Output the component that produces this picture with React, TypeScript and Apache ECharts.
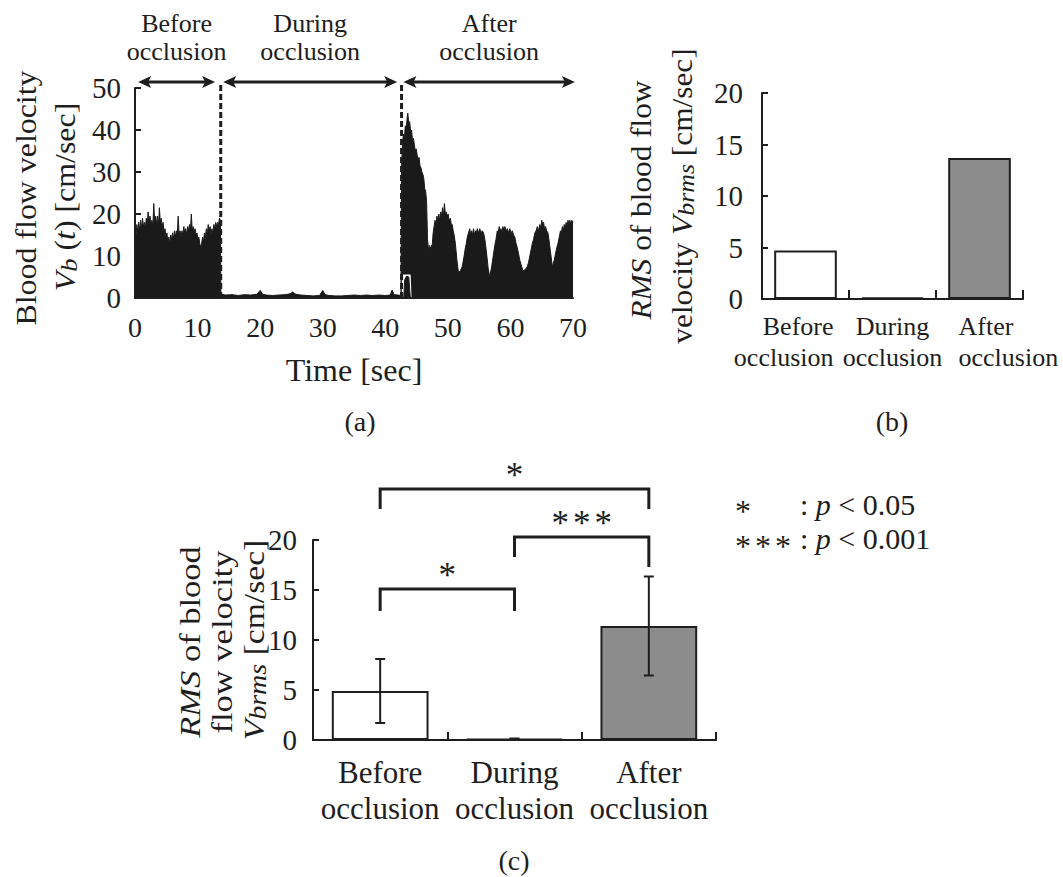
import React, { useEffect, useRef } from "react";
import * as echarts from "echarts";

const FONT = '"Liberation Serif", "Times New Roman", Times, serif';
const INK = "#1e1e1e";

// ---------------- Panel (a): blood flow velocity trace [time s, velocity cm/s]
const beforeTrace: number[][] = [
  [0, 16.5], [0.15, 14.5], [0.3, 17.5], [0.45, 15.5], [0.6, 18], [0.75, 16], [0.9, 18.5], [1.05, 16.5],
  [1.2, 19], [1.35, 17], [1.5, 18], [1.65, 16.5], [1.8, 19], [1.95, 17.5], [2.1, 20.5], [2.25, 18],
  [2.4, 19.5], [2.55, 17.5], [2.7, 18.5], [2.85, 17], [3, 22.5], [3.15, 18], [3.3, 19.5], [3.45, 17.5],
  [3.6, 19.5], [3.75, 17], [3.9, 21.5], [4.05, 18], [4.2, 19], [4.35, 17], [4.5, 18], [4.65, 15.5],
  [4.8, 16.5], [4.95, 14.5], [5.1, 15.5], [5.25, 13.5], [5.4, 14.5], [5.55, 13], [5.7, 15], [5.85, 14],
  [6, 15.5], [6.15, 14], [6.3, 16], [6.45, 14.5], [6.6, 16], [6.75, 15], [6.9, 19.5], [7.05, 15],
  [7.2, 16], [7.35, 14.5], [7.5, 16], [7.65, 15], [7.8, 17], [7.95, 15.5], [8.1, 16.5], [8.25, 15],
  [8.4, 17], [8.55, 16], [8.7, 17.5], [8.85, 16], [9, 20], [9.15, 16], [9.3, 17], [9.45, 15.5],
  [9.6, 16.5], [9.75, 15], [9.9, 15.5], [10.05, 14], [10.2, 14.5], [10.35, 13], [10.5, 12], [10.65, 13],
  [10.8, 14.5], [10.95, 13.5], [11.1, 15.5], [11.25, 14.5], [11.4, 16.5], [11.55, 15], [11.7, 17.5], [11.85, 16],
  [12, 17], [12.15, 15], [12.3, 16.5], [12.45, 15.5], [12.6, 17.5], [12.75, 16.5], [12.9, 18], [13.05, 17],
  [13.2, 18], [13.35, 17.5], [13.5, 19], [13.65, 18.5],
];
const duringTrace: number[][] = [
  [13.72, 0.9], [14.5, 0.7], [15.5, 0.8], [16.5, 0.6], [17.5, 0.8], [18.5, 0.7], [19.5, 0.9], [20, 1.8],
  [20.4, 0.9], [21, 0.7], [22, 0.6], [23, 0.7], [24, 0.8], [24.8, 1.0], [25.2, 1.4], [25.7, 0.9],
  [26.5, 0.7], [27.5, 0.6], [28.5, 0.5], [29.5, 0.6], [30, 1.8], [30.4, 0.8], [31, 0.6], [32, 0.5],
  [33, 0.5], [34, 0.6], [35, 0.7], [36, 0.6], [37, 0.7], [38, 0.6], [39, 0.7], [40, 0.6],
  [40.8, 0.7], [41.1, 1.9], [41.4, 0.8], [42, 0.7], [42.5, 0.6],
];
const afterTrace: number[][] = [
  [42.6, 31], [42.75, 37], [42.9, 39], [43.05, 38], [43.2, 41], [43.35, 40], [43.5, 43], [43.6, 44],
  [43.75, 41.5], [43.9, 42], [44.05, 39.5], [44.2, 40], [44.35, 37.5], [44.5, 38], [44.65, 36.5], [44.8, 35],
  [44.95, 35.5], [45.1, 34], [45.25, 33], [45.4, 33.5], [45.55, 31.5], [45.7, 31], [45.85, 30], [46.0, 29.5],
  [46.15, 28.5], [46.3, 26], [46.45, 25.5], [46.6, 23], [46.75, 14], [46.9, 11.5], [47.05, 12.5], [47.2, 11.5],
  [47.35, 12.5], [47.5, 12.5], [47.65, 15.5], [47.8, 17], [47.95, 18.5], [48.1, 17.5], [48.25, 19.5], [48.4, 18.5],
  [48.55, 20], [48.7, 18.5], [48.85, 20.5], [49.0, 19.5], [49.15, 21.5], [49.3, 19.5], [49.45, 22.5], [49.6, 20],
  [49.75, 20.5], [49.9, 19.5], [50.05, 20], [50.2, 18.5], [50.4, 19], [50.55, 17.5], [50.7, 17.5], [50.85, 16],
  [51.0, 15], [51.2, 13], [51.45, 9], [51.7, 6], [52.0, 6.5], [52.3, 7.5], [52.6, 10], [52.8, 12],
  [52.95, 13], [53.1, 14.5], [53.3, 15.5], [53.5, 16.5], [53.65, 15], [53.8, 16], [53.95, 15], [54.1, 16.5],
  [54.25, 15], [54.4, 16], [54.55, 15.5], [54.7, 16.5], [54.9, 15.5], [55.1, 16.5], [55.3, 15.5], [55.5, 16],
  [55.7, 15.5], [55.85, 14.5], [56.0, 13], [56.2, 10.5], [56.45, 7], [56.7, 5], [57.0, 7.5], [57.3, 10.5],
  [57.5, 12.5], [57.7, 14], [57.9, 16], [58.05, 15.5], [58.2, 17], [58.35, 16], [58.5, 16.5], [58.65, 15.5],
  [58.8, 17], [58.95, 16], [59.1, 17], [59.3, 16], [59.5, 16.5], [59.7, 15.5], [59.9, 16.5], [60.1, 15.5],
  [60.3, 16], [60.5, 15], [60.7, 14.5], [60.9, 13], [61.1, 12], [61.3, 10.5], [61.5, 9], [61.7, 8],
  [62.0, 6.5], [62.4, 6.8], [62.7, 7.5], [62.9, 8.5], [63.1, 10], [63.3, 11.5], [63.5, 13], [63.7, 14],
  [63.9, 15.5], [64.1, 16], [64.3, 17], [64.5, 16], [64.7, 17.5], [64.85, 16.5], [65.0, 18.5], [65.15, 17.5],
  [65.3, 18], [65.45, 16.5], [65.6, 17], [65.8, 16], [66.0, 15.5], [66.15, 14], [66.4, 11], [66.7, 7.5],
  [67.0, 9], [67.2, 10.5], [67.4, 12], [67.6, 13], [67.8, 14.5], [68.0, 16], [68.15, 15.5], [68.3, 17],
  [68.45, 16], [68.6, 17.5], [68.75, 16.5], [68.9, 18], [69.05, 17], [69.2, 18.5], [69.35, 17.5], [69.5, 18.5],
  [69.65, 17.5], [69.8, 18.5], [70.0, 18],
];
// small white gap with a hump just after the cuff release
const releaseGap: number[][] = [[42.64, 0], [42.66, 5.6], [44.05, 5.6], [44.2, 0]];
const releaseHump: number[][] = [[42.95, 0], [43.1, 4.3], [43.4, 5.2], [43.75, 5.0], [44.0, 0]];

const phaseNames = ["Before\nocclusion", "During\nocclusion", "After\nocclusion"];
const phaseArrowStart = [0.5, 14.1, 42.9];
const phaseArrowEnd = [12.8, 41.9, 70.3];
const phaseBoundaries = [13.7, 42.6];

// ---------------- Panel (b): example RMS
const categories = ["Before\nocclusion", "During\nocclusion", "After\nocclusion"];
const exampleRms = [4.7, 0.15, 13.7];

// ---------------- Panel (c): mean RMS with SD and significance
const meanRms = [4.9, 0.1, 11.4];
const sdRms = [3.2, 0.05, 4.95];
const sigFrom = [0, 1, 0];
const sigTo = [1, 2, 2];
const sigTop = [15.1, 20.3, 25.1];
const sigLegLeft = [12.9, 18.3, 23.1];
const sigLegRight = [12.9, 17.3, 23.1];
const sigLabels = ["{st|*}", "{st|*}{st|*}{st|*}", "{st|*}"];
const legendKeys = ["{sl|*}", "{sl|*}{sl|*}{sl|*}"];
const legendTexts = [": {i|p} < 0.05", ": {i|p} < 0.001"];

const barFill = ["#ffffff", "#ffffff", "#8c8c8c"];

const rich = (size: number, lh?: number) => ({
  i: { fontStyle: "italic", fontSize: size, fontFamily: FONT, fill: INK, lineHeight: lh || size + 2 },
  s: {
    fontStyle: "italic",
    fontSize: Math.round(size * 0.82),
    fontFamily: FONT,
    fill: INK,
    lineHeight: Math.round(size * 0.62),
    verticalAlign: "bottom",
  },
  st: { fontSize: 35, fontFamily: FONT, fill: INK, lineHeight: 30, padding: [0, 2, 0, 2] },
  sl: { fontSize: 32, fontFamily: FONT, fill: INK, lineHeight: lh || 30, padding: [0, 2, 0, 2] },
});

const vTitle = (x: number, y: number, text: string, size: number, stretch: number) => ({
  type: "text",
  x,
  y,
  rotation: Math.PI / 2,
  scaleX: stretch,
  silent: true,
  style: {
    text,
    fontSize: size,
    lineHeight: size + 2,
    fontFamily: FONT,
    fill: INK,
    align: "center",
    verticalAlign: "middle",
    rich: rich(size),
  },
});

const plainText = (x: number, y: number, text: string, size: number, align = "center", lh?: number) => ({
  type: "text",
  x,
  y,
  silent: true,
  style: {
    text,
    fontSize: size,
    lineHeight: lh || size,
    fontFamily: FONT,
    fill: INK,
    align,
    verticalAlign: "middle",
    rich: rich(size, lh),
  },
});

export default function App() {
  const ref = useRef<HTMLDivElement>(null);
  useEffect(() => {
    if (!ref.current) return;
    const chart = echarts.init(ref.current, null, { renderer: "svg" });
    const axisLineStyle = { color: INK, width: 2 };
    const trace = [...beforeTrace, ...duringTrace, ...afterTrace];
    const catB = categories.map((c, i) =>
      i === 0
        ? { value: c, textStyle: { align: "right", padding: [0, -28, 0, 0] } }
        : i === 2
        ? { value: c, textStyle: { align: "left", padding: [0, 0, 0, -21] } }
        : c
    );

    const option: any = {
      animation: false,
      backgroundColor: "#ffffff",
      textStyle: { fontFamily: FONT, color: INK },
      grid: [
        { left: 135, top: 88, width: 438, height: 210 },
        { left: 762, top: 93, width: 261, height: 206 },
        { left: 313, top: 540, width: 403, height: 200 },
      ],
      xAxis: [
        {
          gridIndex: 0,
          type: "value",
          min: 0,
          max: 70,
          interval: 10,
          z: 10,
          axisLine: { show: true, lineStyle: axisLineStyle },
          axisTick: { show: false },
          splitLine: { show: false },
          axisLabel: { fontSize: 28, color: INK, margin: 15, fontFamily: FONT },
          name: "Time [sec]",
          nameLocation: "middle",
          nameGap: 56,
          nameTextStyle: { fontSize: 32, color: INK, fontFamily: FONT },
        },
        {
          gridIndex: 1,
          type: "category",
          data: catB,
          axisLine: { show: true, lineStyle: axisLineStyle },
          axisTick: { show: true, inside: true, length: 9, lineStyle: axisLineStyle },
          axisLabel: { fontSize: 26, lineHeight: 31, color: INK, margin: 12, interval: 0, fontFamily: FONT },
        },
        {
          gridIndex: 2,
          type: "category",
          data: categories,
          axisLine: { show: true, lineStyle: axisLineStyle },
          axisTick: { show: true, inside: true, length: 8, lineStyle: axisLineStyle },
          axisLabel: { fontSize: 31, lineHeight: 36, color: INK, margin: 14, interval: 0, fontFamily: FONT },
        },
      ],
      yAxis: [
        {
          gridIndex: 0,
          type: "value",
          min: 0,
          max: 50,
          interval: 10,
          axisLine: { show: true, lineStyle: axisLineStyle },
          axisTick: { show: true, inside: true, length: 6, lineStyle: axisLineStyle },
          splitLine: { show: false },
          axisLabel: { fontSize: 29, color: INK, margin: 14, fontFamily: FONT },
        },
        {
          gridIndex: 1,
          type: "value",
          min: 0,
          max: 20,
          interval: 5,
          axisLine: { show: true, lineStyle: axisLineStyle },
          axisTick: { show: true, inside: true, length: 6, lineStyle: axisLineStyle },
          splitLine: { show: false },
          axisLabel: { fontSize: 29, color: INK, margin: 19, fontFamily: FONT },
        },
        {
          gridIndex: 2,
          type: "value",
          min: 0,
          max: 20,
          interval: 5,
          axisLine: { show: true, lineStyle: axisLineStyle },
          axisTick: { show: true, inside: true, length: 6, lineStyle: axisLineStyle },
          splitLine: { show: false },
          axisLabel: { fontSize: 29, color: INK, margin: 16, fontFamily: FONT },
        },
      ],
      series: [
        {
          type: "line",
          xAxisIndex: 0,
          yAxisIndex: 0,
          data: trace,
          showSymbol: false,
          silent: true,
          lineStyle: { color: "#1a1a1a", width: 1 },
          areaStyle: { color: "#1a1a1a", opacity: 1 },
          z: 2,
        },
        {
          type: "line",
          xAxisIndex: 0,
          yAxisIndex: 0,
          data: releaseGap,
          showSymbol: false,
          silent: true,
          lineStyle: { width: 0, color: "#ffffff" },
          areaStyle: { color: "#ffffff", opacity: 1 },
          z: 3,
        },
        {
          type: "line",
          xAxisIndex: 0,
          yAxisIndex: 0,
          data: releaseHump,
          showSymbol: false,
          silent: true,
          lineStyle: { width: 1, color: "#1a1a1a" },
          areaStyle: { color: "#1a1a1a", opacity: 1 },
          z: 4,
        },
        {
          type: "custom",
          xAxisIndex: 0,
          yAxisIndex: 0,
          clip: false,
          silent: true,
          z: 6,
          data: phaseBoundaries.map((t) => [t, 0]),
          renderItem: (params: any, api: any) => {
            const p0 = api.coord([api.value(0), 0]);
            const p1 = api.coord([api.value(0), 50]);
            return {
              type: "line",
              shape: { x1: p0[0], y1: p0[1], x2: p1[0], y2: p1[1] - 6 },
              style: { stroke: INK, lineWidth: 3, lineDash: [6, 3] },
            };
          },
        },
        {
          type: "custom",
          xAxisIndex: 0,
          yAxisIndex: 0,
          clip: false,
          silent: true,
          z: 6,
          data: phaseArrowStart.map((s, i) => [s, phaseArrowEnd[i]]),
          renderItem: (params: any, api: any) => {
            const i = params.dataIndex;
            const y = api.coord([0, 50])[1] - 6;
            const x1 = api.coord([api.value(0), 0])[0];
            const x2 = api.coord([api.value(1), 0])[0];
            const h = 13;
            const w = 6;
            return {
              type: "group",
              children: [
                { type: "line", shape: { x1: x1 + 6, y1: y, x2: x2 - 6, y2: y }, style: { stroke: INK, lineWidth: 3 } },
                { type: "polygon", shape: { points: [[x1, y], [x1 + h, y - w], [x1 + h - 3, y], [x1 + h, y + w]] }, style: { fill: INK } },
                { type: "polygon", shape: { points: [[x2, y], [x2 - h, y - w], [x2 - h + 3, y], [x2 - h, y + w]] }, style: { fill: INK } },
                {
                  type: "text",
                  x: (x1 + x2) / 2,
                  y: y - 45,
                  style: { text: phaseNames[i], fontSize: 26, lineHeight: 28, fontFamily: FONT, fill: INK, align: "center", verticalAlign: "middle" },
                },
              ],
            };
          },
        },
        {
          type: "bar",
          xAxisIndex: 1,
          yAxisIndex: 1,
          barWidth: "72%",
          silent: true,
          data: exampleRms.map((v, i) => ({ value: v, itemStyle: { color: barFill[i], borderColor: INK, borderWidth: 2 } })),
        },
        {
          type: "bar",
          xAxisIndex: 2,
          yAxisIndex: 2,
          barWidth: "72%",
          silent: true,
          data: meanRms.map((v, i) => ({ value: v, itemStyle: { color: barFill[i], borderColor: INK, borderWidth: 2 } })),
        },
        {
          type: "custom",
          xAxisIndex: 2,
          yAxisIndex: 2,
          silent: true,
          z: 5,
          data: meanRms.map((m, i) => [i, m - sdRms[i], m + sdRms[i]]),
          renderItem: (params: any, api: any) => {
            const lo = api.coord([api.value(0), api.value(1)]);
            const hi = api.coord([api.value(0), api.value(2)]);
            const c = 5;
            const st = { stroke: INK, lineWidth: 2 };
            return {
              type: "group",
              children: [
                { type: "line", shape: { x1: lo[0], y1: lo[1], x2: hi[0], y2: hi[1] }, style: st },
                { type: "line", shape: { x1: lo[0] - c, y1: lo[1], x2: lo[0] + c, y2: lo[1] }, style: st },
                { type: "line", shape: { x1: hi[0] - c, y1: hi[1], x2: hi[0] + c, y2: hi[1] }, style: st },
              ],
            };
          },
        },
        {
          type: "custom",
          xAxisIndex: 2,
          yAxisIndex: 2,
          clip: false,
          silent: true,
          z: 5,
          data: sigFrom.map((f, i) => [f, sigTo[i], sigTop[i], sigLegLeft[i], sigLegRight[i]]),
          renderItem: (params: any, api: any) => {
            const a = api.value(0);
            const b = api.value(1);
            const pL = api.coord([a, api.value(3)]);
            const pTL = api.coord([a, api.value(2)]);
            const pTR = api.coord([b, api.value(2)]);
            const pR = api.coord([b, api.value(4)]);
            return {
              type: "group",
              children: [
                { type: "polyline", shape: { points: [pL, pTL, pTR, pR] }, style: { stroke: INK, lineWidth: 3, fill: null } },
                {
                  type: "text",
                  x: (pTL[0] + pTR[0]) / 2,
                  y: pTL[1] - 14,
                  style: {
                    text: sigLabels[params.dataIndex],
                    fontSize: 35,
                    lineHeight: 30,
                    fontFamily: FONT,
                    fill: INK,
                    align: "center",
                    verticalAlign: "middle",
                    rich: rich(35),
                  },
                },
              ],
            };
          },
        },
      ],
      graphic: [
        vTitle(26, 198, "Blood flow velocity", 29, 1.1),
        vTitle(65, 197, "{i|V}{s|b} ({i|t}) [cm/sec]", 29, 1.1),
        vTitle(641, 200, "{i|RMS} of blood flow", 29, 1.08),
        vTitle(682, 196, "velocity {i|V}{s|brms} [cm/sec]", 29, 1.08),
        vTitle(190, 642, "{i|RMS} of blood", 30, 1.15),
        vTitle(222, 642, "flow velocity", 30, 1.15),
        vTitle(254, 640, "{i|V}{s|brms} [cm/sec]", 30, 1.12),
        plainText(360, 421, "(a)", 28),
        plainText(892, 421, "(b)", 28),
        plainText(514, 860, "(c)", 28),
        plainText(733, 528, legendKeys.join("\n"), 32, "left", 35),
        plainText(800, 521, legendTexts.join("\n"), 30, "left", 34),
      ],
    };
    chart.setOption(option);
    return () => chart.dispose();
  }, []);
  return <div ref={ref} style={{ position: "fixed", left: 0, top: 0, width: 1063, height: 877, background: "#fff" }} />;
}
